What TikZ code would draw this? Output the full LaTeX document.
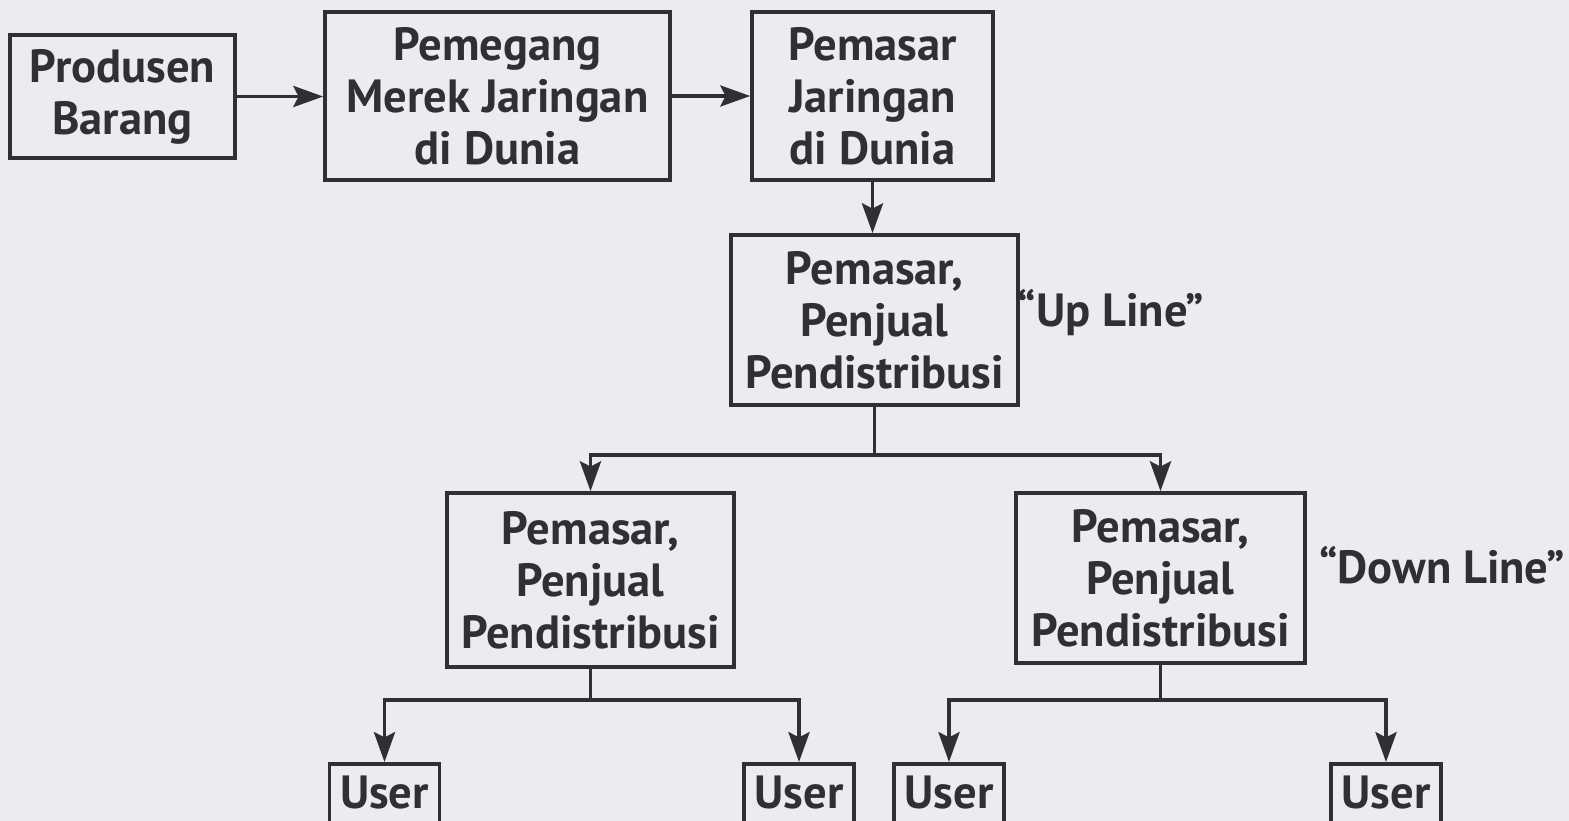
\documentclass[tikz,border=0pt]{standalone}
\usepackage{fontspec}
\setmainfont{PT Sans}
\usetikzlibrary{arrows.meta}

\definecolor{ink}{RGB}{48,48,50}
\definecolor{kertas}{RGB}{234,236,239}

\tikzset{
  kotak/.style={draw=ink, line width=2.1pt, align=center, inner sep=0pt,
    text=ink, font=\fontsize{26.5}{29.5}\selectfont\bfseries},
  user/.style={kotak, anchor=north, minimum width=2.2cm,
    text height=25.5pt, text depth=22pt},
  ket/.style={text=ink, font=\fontsize{26.5}{29.5}\selectfont\bfseries},
  panah/.style={draw=ink, line width=2.1pt, -{Stealth[length=17pt,width=12pt,inset=3pt]}},
  garis/.style={draw=ink, line width=2.1pt},
}

\begin{document}
\begin{tikzpicture}[x=0.02cm, y=-0.02cm]
        % Background
        \fill[kertas] (0,0) rectangle (1569,821);
        \useasboundingbox (0,0) rectangle (1569,821);

        % Top row
        \node[kotak, minimum width=4.5cm, minimum height=2.46cm] (produsen) at (122.5,96.5) {Produsen\\Barang};
        \node[kotak, minimum width=6.9cm, minimum height=3.36cm] (merek) at (497.5,96) {Pemegang\\Merek Jaringan\\di Dunia};
        \node[kotak, minimum width=4.82cm, minimum height=3.36cm] (jaringan) at (872.5,96) {Pemasar\\Jaringan\\di Dunia};

        \draw[panah] (produsen.east) -- (merek.west |- produsen.east);
        \draw[panah] (merek.east) -- (jaringan.west);

        % Up line
        \node[kotak, minimum width=5.74cm, minimum height=3.4cm] (upline) at (874.5,320) {Pemasar,\\Penjual\\Pendistribusi};
        \node[ket] (labelup) at (1111,313) {``Up Line''};
        \draw[panah] (jaringan.south) -- (jaringan.south |- upline.north);

        % Down line
        \node[kotak, minimum width=5.74cm, minimum height=3.48cm] (kiri) at (590.5,580) {Pemasar,\\Penjual\\Pendistribusi};
        \node[kotak, minimum width=5.78cm, minimum height=3.4cm] (kanan) at (1160.5,578) {Pemasar,\\Penjual\\Pendistribusi};
        \node[ket] (labeldown) at (1442,565) {``Down Line''};

        \coordinate (cabang) at (874.5,455);
        \draw[garis] (upline.south) -- (cabang);
        \draw[panah] (cabang) -| (kiri.north);
        \draw[panah] (cabang) -| (kanan.north);

        % Users
        \node[user] (u1) at (384.5,762) {User};
        \node[user] (u2) at (799,762) {User};
        \node[user] (u3) at (949,762) {User};
        \node[user] (u4) at (1386,762) {User};

        \coordinate (cabangkiri) at (590.5,700);
        \coordinate (cabangkanan) at (1160.5,700);
        \draw[garis] (kiri.south) -- (cabangkiri);
        \draw[panah] (cabangkiri) -| (u1.north);
        \draw[panah] (cabangkiri) -| (u2.north);
        \draw[garis] (kanan.south) -- (cabangkanan);
        \draw[panah] (cabangkanan) -| (u3.north);
        \draw[panah] (cabangkanan) -| (u4.north);
    \end{tikzpicture}
\end{document}
